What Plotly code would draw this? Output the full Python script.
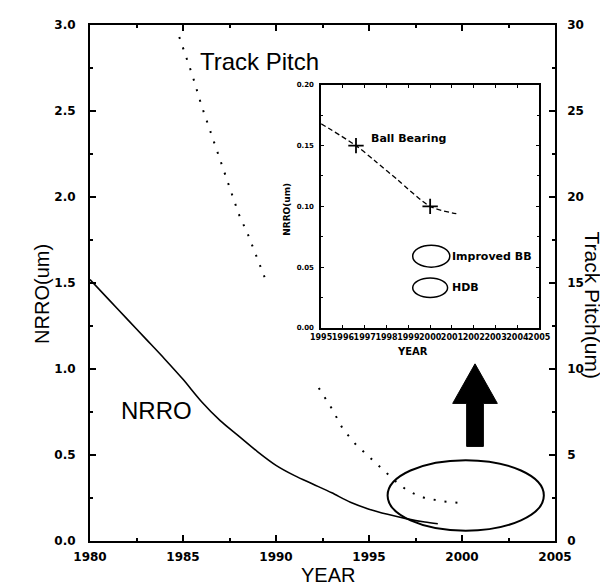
import plotly.graph_objects as go

# ---------------- data ----------------
nrro_years = [1980, 1981, 1982, 1983, 1984, 1985, 1986, 1987, 1988, 1989, 1990,
              1991, 1992, 1993, 1994, 1995, 1996, 1997, 1998, 1998.7]
nrro_vals = [1.52, 1.405, 1.29, 1.175, 1.06, 0.94, 0.81, 0.70, 0.61, 0.52, 0.44,
             0.38, 0.33, 0.28, 0.225, 0.185, 0.155, 0.13, 0.11, 0.10]

tp_years = [1984.8, 1985.5, 1986.0, 1986.5, 1987.0, 1987.5, 1988.0, 1988.5, 1989.0, 1989.4,
            None,
            1992.3, 1993.0, 1993.6, 1994.3, 1995.0, 1995.7, 1996.4, 1997.1, 1998.0, 1999.0, 2000.0]
tp_vals = [29.3, 27.1, 25.3, 23.7, 22.2, 20.5, 19.0, 17.8, 16.4, 15.3,
           None,
           8.9, 7.7, 6.5, 5.6, 4.9, 4.2, 3.5, 2.9, 2.5, 2.3, 2.2]

inset_years = [1995.0, 1996.6, 1997.5, 1998.5, 2000.0, 2001.2]
inset_vals = [0.168, 0.150, 0.137, 0.122, 0.100, 0.094]
bb_years = [1996.6, 2000.0]
bb_vals = [0.150, 0.100]

main_xticks = [1980, 1985, 1990, 1995, 2000, 2005]
main_yticks = [0.0, 0.5, 1.0, 1.5, 2.0, 2.5, 3.0]
tp_ticks = [0, 5, 10, 15, 20, 25, 30]
inset_xticks = list(range(1995, 2006))
inset_yticks = [0.00, 0.05, 0.10, 0.15, 0.20]

# ---------------- figure ----------------
fig = go.Figure()
fig.add_trace(go.Scatter(x=nrro_years, y=nrro_vals, mode="lines",
                         line=dict(color="black", width=1.6, shape="spline", smoothing=0.8),
                         xaxis="x", yaxis="y", showlegend=False, hoverinfo="skip"))
fig.add_trace(go.Scatter(x=tp_years, y=tp_vals, mode="lines", connectgaps=False,
                         line=dict(color="black", width=2, dash="2px,9px"),
                         xaxis="x", yaxis="y2", showlegend=False, hoverinfo="skip"))
fig.add_trace(go.Scatter(x=inset_years, y=inset_vals, mode="lines",
                         line=dict(color="black", width=1.3, dash="5px,3px",
                                   shape="spline", smoothing=0.8),
                         xaxis="x2", yaxis="y3", showlegend=False, hoverinfo="skip"))
fig.add_trace(go.Scatter(x=bb_years, y=bb_vals, mode="markers",
                         marker=dict(symbol="cross-thin", size=11,
                                     line=dict(color="black", width=1.8)),
                         xaxis="x2", yaxis="y3", showlegend=False, hoverinfo="skip"))

tickfont = dict(family="DejaVu Sans", size=12, color="black", weight="bold")
small_tick = dict(family="DejaVu Sans", size=8, color="black", weight="bold")

fig.update_layout(
    width=608, height=588,
    margin=dict(l=82, r=61, t=17, b=55),
    paper_bgcolor="white", plot_bgcolor="white",
    xaxis=dict(domain=[0, 1], range=[1980, 2005], tickvals=main_xticks,
               ticks="inside", ticklen=6, tickwidth=1.5, tickcolor="black",
               minor=dict(dtick=2.5, ticks="inside", ticklen=3, tickcolor="black"),
               showline=True, linewidth=2, linecolor="black", mirror="ticks",
               showgrid=False, zeroline=False, tickfont=tickfont, tickangle=0,
               ticklabelstandoff=4, anchor="y", automargin=False),
    yaxis=dict(domain=[0, 1], range=[0, 3], tickvals=main_yticks, tickformat=".1f",
               ticks="inside", ticklen=6, tickwidth=1.5, tickcolor="black",
               minor=dict(dtick=0.25, ticks="inside", ticklen=3, tickcolor="black"),
               showline=True, linewidth=2, linecolor="black",
               showgrid=False, zeroline=False, tickfont=tickfont,
               ticklabelstandoff=10, anchor="x", automargin=False),
    yaxis2=dict(overlaying="y", side="right", range=[0, 30], tickvals=tp_ticks,
                ticks="inside", ticklen=6, tickwidth=1.5, tickcolor="black",
                minor=dict(dtick=2.5, ticks="inside", ticklen=3, tickcolor="black"),
                showline=True, linewidth=1.5, linecolor="black",
                showgrid=False, zeroline=False, tickfont=tickfont,
                ticklabelstandoff=8, anchor="x", automargin=False),
    xaxis2=dict(domain=[0.497, 0.966], range=[1995, 2005], tickvals=inset_xticks,
                ticks="inside", ticklen=3, tickwidth=1.2, tickcolor="black",
                showline=True, linewidth=1.5, linecolor="black", mirror="ticks",
                showgrid=False, zeroline=False, tickfont=small_tick, tickangle=0,
                ticklabelstandoff=1, anchor="y3", automargin=False),
    yaxis3=dict(domain=[0.413, 0.884], range=[0, 0.2], tickvals=inset_yticks,
                tickformat=".2f", ticks="inside", ticklen=3, tickwidth=1.2,
                tickcolor="black",
                minor=dict(dtick=0.025, ticks="inside", ticklen=2, tickcolor="black"),
                showline=True, linewidth=1.5, linecolor="black", mirror="ticks",
                showgrid=False, zeroline=False,
                tickfont=dict(family="DejaVu Sans", size=7, color="black", weight="bold"),
                ticklabelstandoff=4, anchor="x2", automargin=False),
)

title_font = dict(family="Liberation Sans", size=20, color="black")
label_font = dict(family="Liberation Sans", size=24, color="black")
inset_font = dict(family="DejaVu Sans", size=11, color="black", weight="bold")

annotations = [
    dict(text="NRRO(um)", x=-0.131, y=0.479, xref="paper", yref="paper",
         textangle=-90, showarrow=False, font=title_font),
    dict(text="YEAR", x=0.512, y=-0.091, xref="paper", yref="paper",
         showarrow=False, font=title_font),
    dict(text="Track Pitch(um)", x=1.110, y=0.457, xref="paper", yref="paper",
         textangle=90, showarrow=False, font=dict(family="Liberation Sans", size=21, color="black")),
    dict(text="Track Pitch", x=1989.1, y=2.79, xref="x", yref="y",
         showarrow=False, font=label_font),
    dict(text="NRRO", x=1983.55, y=0.76, xref="x", yref="y",
         showarrow=False, font=label_font),
    dict(text="Ball Bearing", x=1997.2, y=0.156, xref="x2", yref="y3", xanchor="left",
         showarrow=False, font=inset_font),
    dict(text="Improved BB", x=2000.9, y=0.059, xref="x2", yref="y3", xanchor="left",
         showarrow=False, font=inset_font),
    dict(text="HDB", x=2000.9, y=0.033, xref="x2", yref="y3", xanchor="left",
         showarrow=False, font=inset_font),
    dict(text="NRRO(um)", x=0.425, y=0.643, xref="paper", yref="paper",
         textangle=-90, showarrow=False,
         font=dict(family="DejaVu Sans", size=9, color="black", weight="bold")),
    dict(text="YEAR", x=0.731, y=0.368, xref="paper", yref="paper",
         showarrow=False, font=dict(family="DejaVu Sans", size=10, color="black", weight="bold")),
]
fig.update_layout(annotations=annotations)

shapes = [
    dict(type="circle", xref="x", yref="y", x0=1996.0, x1=2004.4, y0=0.06, y1=0.47,
         line=dict(color="black", width=2)),
    dict(type="path", xref="x", yref="y",
         path="M 2000.25 0.55 L 2001.15 0.55 L 2001.15 0.80 L 2001.9 0.80 "
              "L 2000.7 1.03 L 1999.5 0.80 L 2000.25 0.80 Z",
         fillcolor="black", line=dict(color="black", width=1)),
    dict(type="circle", xref="x2", yref="y3", x0=1999.2, x1=2000.9, y0=0.050, y1=0.068,
         line=dict(color="black", width=1.5)),
    dict(type="circle", xref="x2", yref="y3", x0=1999.2, x1=2000.8, y0=0.025, y1=0.041,
         line=dict(color="black", width=1.5)),
]
fig.update_layout(shapes=shapes)

fig.write_html("out.html")
